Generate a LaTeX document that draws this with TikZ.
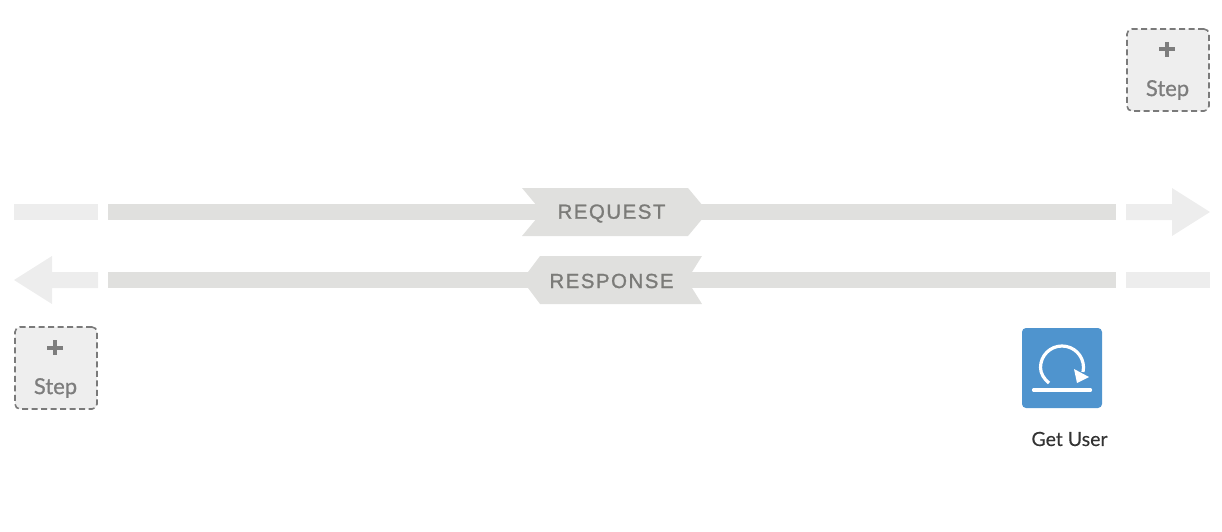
\documentclass[tikz,border=0pt]{standalone}
\usepackage{fontspec}
\setmainfont{Lato}
\newfontfamily\bandfont[LetterSpace=7.5,FakeBold=1.2]{Liberation Sans}
\newfontfamily\stepfont[FakeBold=0.7]{Lato}
\newfontfamily\userfont[FakeBold=0.2]{Lato}
\definecolor{banddark}{HTML}{E0E0DE}
\definecolor{bandlight}{HTML}{EDEDED}
\definecolor{bandtext}{HTML}{7B7B78}
\definecolor{stepfill}{HTML}{EEEEEE}
\definecolor{stepline}{HTML}{7A7A7A}
\definecolor{steptext}{HTML}{7D7D7D}
\definecolor{blueicon}{HTML}{4F94CE}
\definecolor{labeltext}{HTML}{333333}
\tikzset{
  darkband/.style={fill=banddark,draw=none},
  lightband/.style={fill=bandlight,draw=none},
  bandlabel/.style={text=bandtext,inner sep=0pt,font=\fontsize{20.4}{24}\selectfont\bandfont},
  stepbox/.style={rectangle,rounded corners=5pt,draw=stepline,fill=stepfill,line width=1.6pt,dash pattern=on 6pt off 3.5pt,minimum width=82pt,minimum height=82pt,inner sep=0pt},
  steplabel/.style={text=steptext,inner sep=0pt,font=\fontsize{22}{26}\selectfont\stepfont},
  plusmark/.style={draw=steptext,line width=4pt},
  iconstroke/.style={draw=white,line width=3.2pt},
}
\begin{document}
\begin{tikzpicture}[x=1pt,y=-1pt]
\useasboundingbox (0,0) rectangle (1222,532);
% request band
\fill[lightband] (14,204) rectangle (98,220);
\fill[darkband] (108,204) rectangle (1116,220);
\fill[lightband] (1126,204) -- (1172,204) -- (1172,188) -- (1210,212) -- (1172,236) -- (1172,220) -- (1126,220) -- cycle;
\fill[darkband] (522,188) -- (688,188) -- (708,212) -- (688,236) -- (522,236) -- (542,212) -- cycle;
\node[bandlabel] (request) at (611.5,213.5) {REQUEST};
% response band
\fill[lightband] (98,272) -- (52,272) -- (52,256) -- (14,280) -- (52,304) -- (52,288) -- (98,288) -- cycle;
\fill[darkband] (108,272) rectangle (1116,288);
\fill[lightband] (1126,272) rectangle (1210,288);
\fill[darkband] (702,256) -- (540,256) -- (522,280) -- (540,304) -- (702,304) -- (687,280) -- cycle;
\node[bandlabel] (response) at (611.5,281) {RESPONSE};
% step boxes
\node[stepbox] (stepTop) at (1168,70) {};
\draw[plusmark] (1159,49.5) -- (1175,49.5) (1167,42) -- (1167,57);
\node[steplabel] (stepTopLabel) at (1167.5,90) {Step};
\node[stepbox] (stepBottom) at (56,368) {};
\draw[plusmark] (47,347.5) -- (63,347.5) (55,340) -- (55,355);
\node[steplabel] (stepBottomLabel) at (55.5,388) {Step};
% get user icon
\node[rectangle,rounded corners=4pt,fill=blueicon,minimum width=80pt,minimum height=80pt,inner sep=0pt] (getUser) at (1062,368) {};
\draw[iconstroke] (1049,383) .. controls (1044,379) and (1040.5,373.5) .. (1040.5,367.5) .. controls (1040.5,355.6) and (1050.1,346) .. (1062,346) .. controls (1073.9,346) and (1083.5,355.6) .. (1083.5,367.5) -- (1083,372);
\fill[white] (1074,369) -- (1089,377) -- (1077,383) -- cycle;
\draw[iconstroke,line cap=round] (1033.5,390) -- (1090.5,390);
\node[text=labeltext,inner sep=0pt,font=\fontsize{19.5}{24}\selectfont\userfont] (getUserLabel) at (1069.5,439) {Get User};
\end{tikzpicture}
\end{document}
